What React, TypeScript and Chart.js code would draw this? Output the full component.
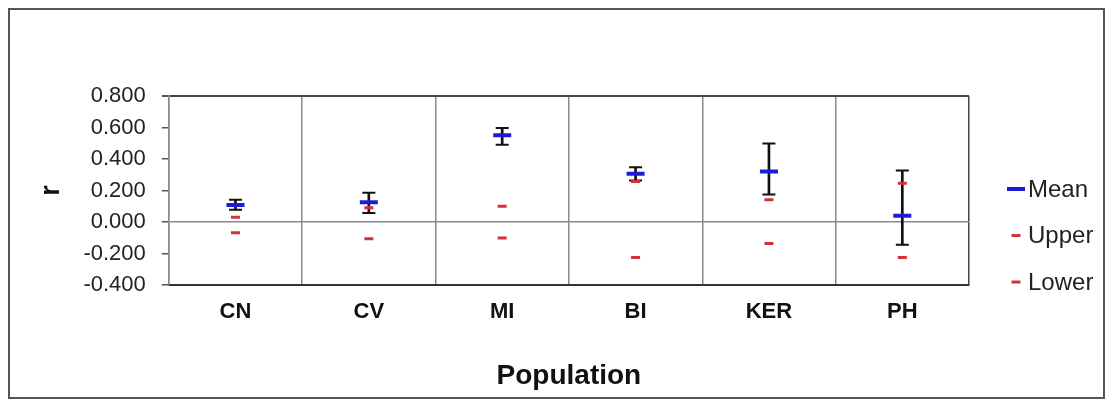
import React, { useEffect, useRef } from "react";
import { Chart, registerables } from "chart.js";

Chart.register(...registerables);

const categories = ["CN", "CV", "MI", "BI", "KER", "PH"];
const meanValues = [0.108, 0.125, 0.551, 0.306, 0.321, 0.04];
const errHigh = [0.142, 0.185, 0.597, 0.348, 0.498, 0.327];
const errLow = [0.077, 0.057, 0.491, 0.264, 0.174, -0.145];
const upperValues = [0.03, 0.09, 0.1, 0.257, 0.142, 0.246];
const lowerValues = [-0.068, -0.107, -0.102, -0.226, -0.137, -0.226];
const yTickMin = -0.4;
const yTickMax = 0.8;
const yTickStep = 0.2;

const FONT = "'Liberation Sans', Arial, Helvetica, sans-serif";
const BLUE = "#1c1cd8";
const RED = "#d2323c";
const BLACK = "#111111";

const legendPlugin = {
  id: "sideLegend",
  afterDraw(chart: any) {
    const ctx = chart.ctx;
    const area = chart.chartArea;
    const items = chart.data.datasets.filter((d: any) =>
      ["Mean", "Upper", "Lower"].includes(d.label)
    );
    ctx.save();
    items.forEach((d: any, i: number) => {
      const cy = area.top + 93 + i * 46.5;
      const cx = area.right + 47;
      const half = d.pointRadius;
      ctx.strokeStyle = d.pointBorderColor;
      ctx.lineWidth = d.pointBorderWidth;
      ctx.beginPath();
      ctx.moveTo(cx - half, cy);
      ctx.lineTo(cx + half, cy);
      ctx.stroke();
      ctx.fillStyle = "#222";
      ctx.font = `24px ${FONT}`;
      ctx.textAlign = "left";
      ctx.textBaseline = "middle";
      ctx.fillText(d.label, area.right + 59, cy + 1);
    });
    ctx.restore();
  },
};

export default function App() {
  const canvasRef = useRef<HTMLCanvasElement | null>(null);

  useEffect(() => {
    if (!canvasRef.current) return;
    const markerSet = (label: string, data: number[], color: string, r: number, w: number, order: number) => ({
      type: "line" as const,
      label,
      data,
      showLine: false,
      pointStyle: "line",
      pointRadius: r,
      pointHoverRadius: r,
      pointBorderWidth: w,
      pointBorderColor: color,
      pointBackgroundColor: color,
      borderColor: color,
      backgroundColor: color,
      order,
    });
    const chart = new Chart(canvasRef.current, {
      type: "bar",
      data: {
        labels: categories,
        datasets: [
          markerSet("Mean", meanValues, BLUE, 9, 4, 0),
          markerSet("Upper", upperValues, RED, 4.5, 3, 1),
          markerSet("Lower", lowerValues, RED, 4.5, 3, 1),
          markerSet("capHigh", errHigh, BLACK, 6.5, 2, 2),
          markerSet("capLow", errLow, BLACK, 6.5, 2, 2),
          {
            type: "bar" as const,
            label: "errBar",
            data: errLow.map((l, i) => [l, errHigh[i]]),
            backgroundColor: BLACK,
            barThickness: 2,
            order: 3,
          } as any,
        ],
      },
      options: {
        animation: false,
        responsive: true,
        maintainAspectRatio: false,
        layout: { padding: { left: 21, right: 134, top: 86, bottom: 0 } },
        plugins: {
          legend: { display: false },
          tooltip: { enabled: false },
        },
        scales: {
          x: {
            type: "category",
            offset: true,
            grid: {
              offset: true,
              drawTicks: false,
              lineWidth: 1.5,
              color: (c: any) => (c.type === "tick" ? "#8a8a8a" : "#444"),
            },
            border: { color: "#333", width: 2 },
            ticks: {
              color: BLACK,
              padding: 14,
              font: { family: FONT, size: 22, weight: "bold" },
            },
            title: {
              display: true,
              text: "Population",
              color: BLACK,
              font: { family: FONT, size: 28, weight: "bold" },
              padding: { top: 20, bottom: 4 },
            },
          },
          y: {
            min: yTickMin,
            max: yTickMax,
            ticks: {
              stepSize: yTickStep,
              color: "#222",
              padding: 16,
              font: { family: FONT, size: 22 },
              callback: (v: any) => (Math.abs(Number(v)) < 1e-9 ? "0.000" : Number(v).toFixed(3)),
            },
            grid: {
              tickLength: 7,
              tickColor: "#555",
              lineWidth: (c: any) => (c.tick && c.tick.value > 0.79 ? 2 : 1.5),
              color: (c: any) => {
                const v = c.tick ? c.tick.value : NaN;
                if (Math.abs(v) < 1e-9) return "#8a8a8a";
                if (v > 0.79) return "#444";
                return "rgba(0,0,0,0)";
              },
            },
            border: { color: "#8a8a8a", width: 1.5 },
            title: {
              display: true,
              text: "r",
              color: BLACK,
              font: { family: FONT, size: 27, weight: "bold" },
              padding: { top: 4, bottom: 0 },
            },
          },
        },
      },
      plugins: [legendPlugin],
    } as any);
    return () => chart.destroy();
  }, []);

  return (
    <div
      style={{
        width: 1097,
        height: 391,
        border: "2px solid #555",
        boxSizing: "border-box",
        background: "#fff",
      }}
    >
      <div style={{ position: "relative", width: 1093, height: 387 }}>
        <canvas ref={canvasRef} />
      </div>
    </div>
  );
}
